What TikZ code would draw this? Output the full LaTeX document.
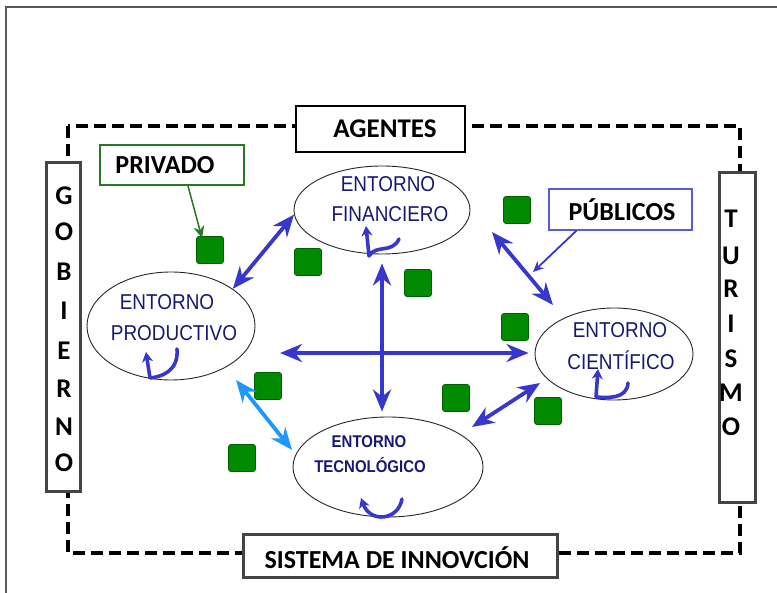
\documentclass[tikz,border=0pt]{standalone}
\usepackage{fontspec}
\setmainfont{Carlito}
\newfontfamily\entf[FakeStretch=0.88]{Liberation Sans}
\usetikzlibrary{arrows.meta,shapes.geometric}
\definecolor{arrblue}{RGB}{55,55,205}
\definecolor{lightarr}{RGB}{30,150,255}
\definecolor{navy}{RGB}{24,24,115}
\definecolor{sqgreen}{RGB}{0,138,0}
\definecolor{sqedge}{RGB}{0,95,0}
\definecolor{boxgray}{RGB}{68,68,68}
\definecolor{privgreen}{RGB}{40,120,40}
\definecolor{pubblue}{RGB}{90,90,220}
\tikzset{
  lbl/.style={font=\bfseries\fontsize{26}{28}\selectfont, inner sep=0pt},
  vletter/.style={font=\bfseries\fontsize{27}{29}\selectfont, inner sep=0pt},
  envnode/.style={draw=black!85, line width=0.9pt, ellipse, inner sep=0pt},
  envtext/.style={text=navy, font=\entf\fontsize{21.5}{23}\selectfont, inner sep=0pt},
  tectext/.style={text=navy, font=\entf\bfseries\fontsize{17}{19}\selectfont, inner sep=0pt},
  sq/.style={draw=sqedge, fill=sqgreen, line width=0.8pt, rounded corners=2.5pt, minimum size=27pt, inner sep=0pt},
  bihead/.style={Stealth[length=22pt,width=18pt,inset=7pt]},
  biarr/.style={{Stealth[length=22pt,width=18pt,inset=7pt]}-{Stealth[length=22pt,width=18pt,inset=7pt]}, line width=3.8pt, draw=arrblue},
  squig/.style={draw=arrblue, line width=3.6pt, line cap=round, line join=round, -{Stealth[length=10pt,width=11pt,inset=3pt]}},
  framebox/.style={draw=boxgray, line width=3pt, fill=white},
}
\begin{document}
\begin{tikzpicture}[x=1pt,y=-1pt]
\useasboundingbox (0,0) rectangle (777,593);
% outer frame lines
\draw[draw=black!65, line width=1.3pt] (6,593) -- (6,7) -- (777,7);
% dashed system boundary
\draw[line width=3.5pt, dash pattern=on 12pt off 6pt] (68,126) rectangle (740,553);

% label boxes
\node[draw=black, line width=1.5pt, fill=white, minimum width=169pt, minimum height=46pt, inner sep=0pt] (agentes) at (380.5,129) {};
\node[lbl, font=\bfseries\fontsize{27}{29}\selectfont] (agt) at (385,129) {AGENTES};
\node[framebox, minimum width=314pt, minimum height=42pt, inner sep=0pt] (sis) at (400,556) {};
\node[lbl] (sist) at (397,558) {SISTEMA DE INNOVCIÓN};
\node[framebox, minimum width=34pt, minimum height=329pt, inner sep=0pt] (gob) at (63.5,327.5) {};
\node[framebox, minimum width=36pt, minimum height=330pt, inner sep=0pt] (tur) at (737,338) {};

% GOBIERNO letters
\foreach \l/\y [count=\i] in {G/196,O/232,B/272,I/311,E/351,R/389,N/427,O/463}
  \node[vletter] (g\i) at (64,\y) {\l};
% TURISMO letters
\foreach \l/\y [count=\i] in {T/219,U/256,R/289,I/324,S/359,M/393,O/427}
  \node[vletter] (t\i) at (731,\y) {\l};

% PRIVADO / PUBLICOS
\node[draw=privgreen, line width=1.2pt, fill=white, minimum width=144pt, minimum height=40pt, inner sep=0pt] (priv) at (172,165) {};
\node[lbl] (privt) at (165,165) {PRIVADO};
\node[draw=pubblue, line width=1.2pt, fill=white, minimum width=143pt, minimum height=41pt, inner sep=0pt] (pub) at (620.5,209.5) {};
\node[lbl] (pubt) at (622,210) {PÚBLICOS};

% ellipses
\node[envnode, minimum width=176pt, minimum height=88pt] (fin) at (382,210) {};
\node[envnode, minimum width=168pt, minimum height=108pt] (prod) at (171,326) {};
\node[envnode, minimum width=158pt, minimum height=92pt] (cie) at (614,354) {};
\node[envnode, minimum width=190pt, minimum height=100pt] (tec) at (388,467) {};

\node[envtext] (fin1) at (388,184) {ENTORNO};
\node[envtext] (fin2) at (390,214) {FINANCIERO};
\node[envtext] (prod1) at (167,302) {ENTORNO};
\node[envtext] (prod2) at (174,333) {PRODUCTIVO};
\node[envtext] (cie1) at (620,330) {ENTORNO};
\node[envtext] (cie2) at (621,360) {CIENTÍFICO};
\node[tectext] (tec1) at (369,442) {ENTORNO};
\node[tectext] (tec2) at (370,465) {TECNOLÓGICO};

% green squares
\foreach \x/\y [count=\i] in {210/250,308/262,418/283,517/210,515/327,268/386,456/398,548/411,242/458}
  \node[sq] (s\i) at (\x,\y) {};

% pointer arrows
\coordinate (ppriv) at (202,238);
\draw[draw=privgreen, line width=1.5pt, -{Stealth[length=12pt,width=11pt,inset=4pt]}] (188,186) -- (ppriv);
\coordinate (ppub) at (533,272);
\draw[draw=arrblue, line width=1.8pt, -{Stealth[length=11pt,width=10pt,inset=4pt]}] ([xshift=-44pt]pub.south) -- (ppub);

% main arrows
\draw[biarr] (fin.183) -- (prod.31);
\draw[biarr, shorten >=5pt, shorten <=9pt] (fin.south) -- (fin.south |- tec.north);
\coordinate (hl) at (280,353);
\draw[biarr, shorten >=6pt] (hl) -- (hl -| cie.west);
\coordinate (fc1) at (492,232);
\coordinate (fc2) at (553,305);
\draw[biarr] (fc1) -- (fc2);
\coordinate (pt1) at (236,380);
\coordinate (pt2) at (292,450);
\draw[biarr, draw=lightarr] (pt1) -- (pt2);
\coordinate (ct1) at (472,427);
\coordinate (ct2) at (540,383);
\draw[biarr] (ct1) -- (ct2);

% squiggles
\draw[squig] (399,239) .. controls (392,254) and (376,244) .. (369,256) -- (366,226);
\draw[squig] (177,349) .. controls (179,372) and (160,377) .. (150,378) -- (146,352);
\draw[squig] (628,383) .. controls (627,399) and (608,398) .. (596,397) -- (598,369);
\draw[squig] (402,499) .. controls (398,521) and (370,523) .. (361,498);
\end{tikzpicture}
\end{document}
